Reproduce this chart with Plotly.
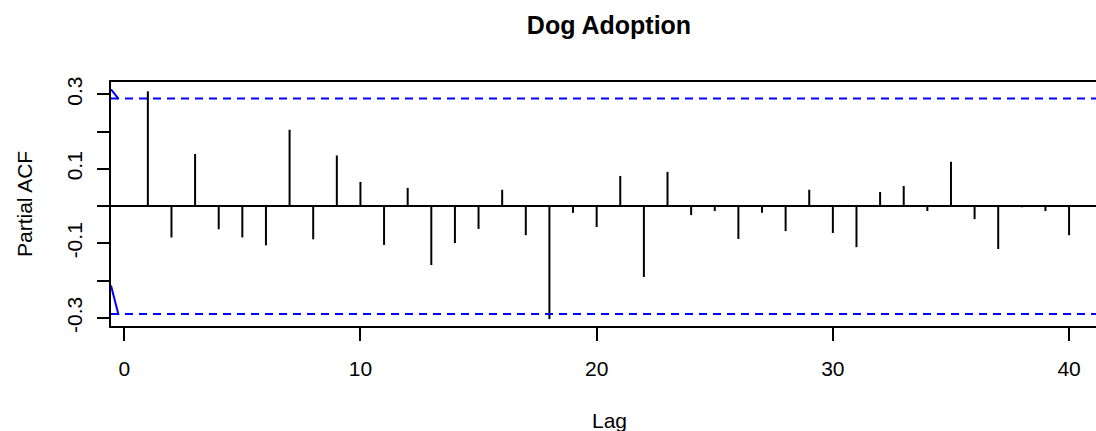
import plotly.graph_objects as go

# ---- data ----
title = "Dog Adoption"
lags = list(range(1, 41))
pacf = [0.308, -0.084, 0.140, -0.062, -0.084, -0.105, 0.205, -0.089, 0.136, 0.065,
        -0.104, 0.049, -0.158, -0.099, -0.061, 0.044, -0.078, -0.303, -0.018, -0.056,
        0.081, -0.190, 0.092, -0.024, -0.013, -0.088, -0.018, -0.067, 0.044, -0.072,
        -0.110, 0.038, 0.054, -0.013, 0.119, -0.035, -0.115, -0.003, -0.013, -0.078]
clim = 0.289
edge_x = [-0.56, -0.24]
edge_upper_y = [0.313, 0.288]
edge_lower_y = [-0.213, -0.292]
y_tickvals = [-0.3, -0.2, -0.1, 0.0, 0.1, 0.2, 0.3]
y_ticktext = ["-0.3", "", "-0.1", "", "0.1", "", "0.3"]
x_tickvals = [0, 10, 20, 30, 40]

W, H = 1096, 431
L, T, B, R = 111, 82, 105, 0
FONT = "Liberation Sans, Arial, sans-serif"

# stems
sx, sy = [], []
for k, v in zip(lags, pacf):
    sx += [k, k, None]
    sy += [0, v, None]

fig = go.Figure()
fig.add_trace(go.Scatter(x=sx, y=sy, mode="lines",
                         line=dict(color="black", width=2), hoverinfo="skip"))
fig.add_trace(go.Scatter(x=edge_x, y=edge_upper_y, mode="lines",
                         line=dict(color="#0000FF", width=2), hoverinfo="skip"))
fig.add_trace(go.Scatter(x=edge_x, y=edge_lower_y, mode="lines",
                         line=dict(color="#0000FF", width=2), hoverinfo="skip"))

for c in (clim, -clim):
    fig.add_shape(type="line", xref="paper", x0=0, x1=1, yref="y", y0=c, y1=c,
                  line=dict(color="#0000FF", width=2, dash="8px,6px"), layer="above")

pw = W - L - R
ph = H - T - B
plot_center_px = 609

fig.update_layout(
    width=W, height=H,
    margin=dict(l=L, r=R, t=T, b=B, pad=0),
    paper_bgcolor="white", plot_bgcolor="white",
    showlegend=False,
    font=dict(family=FONT, size=21, color="black"),
    title=dict(text="<b>" + title + "</b>", x=plot_center_px / W, xanchor="center",
               xref="container", y=1 - 25 / H, yref="container", yanchor="middle",
               font=dict(family=FONT, size=25, color="black")),
    xaxis=dict(range=[-0.56, 41.14], tickvals=x_tickvals, ticks="outside", ticklen=13,
               tickwidth=2, tickcolor="black", showline=True, linecolor="black",
               linewidth=2, mirror=True, showgrid=False, zeroline=False,
               ticklabelstandoff=10,
               tickfont=dict(family=FONT, size=21)),
    yaxis=dict(range=[-0.3215, 0.333], tickvals=y_tickvals, ticktext=y_ticktext,
               ticks="outside", ticklen=12, tickwidth=2, tickcolor="black",
               tickangle=-90, showline=True, linecolor="black", linewidth=2,
               mirror=False, showgrid=False, zeroline=True, zerolinecolor="black",
               zerolinewidth=2, ticklabelstandoff=7,
               tickfont=dict(family=FONT, size=21)),
    annotations=[
        dict(text="Lag", xref="paper", yref="paper",
             x=(plot_center_px - L) / pw, y=-(420 - (T + ph)) / ph,
             xanchor="center", yanchor="middle", showarrow=False,
             font=dict(family=FONT, size=21)),
        dict(text="Partial ACF", xref="paper", yref="paper",
             x=-(L - 24) / pw, y=1 - (204 - T) / ph, textangle=-90,
             xanchor="center", yanchor="middle", showarrow=False,
             font=dict(family=FONT, size=21)),
    ],
)

fig.write_html("out.html")
